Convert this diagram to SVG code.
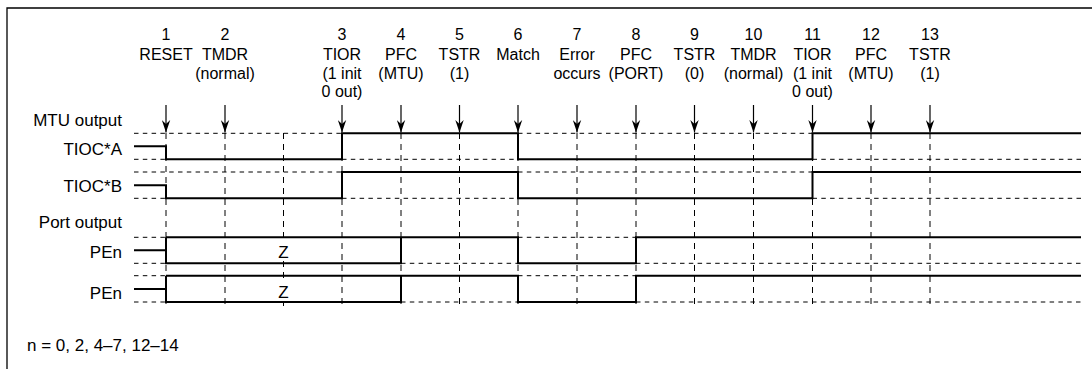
<svg xmlns="http://www.w3.org/2000/svg" width="1092" height="369" viewBox="0 0 1092 369">
<style>
text{font-family:"Liberation Sans",Arial,sans-serif;font-size:16px;fill:#000}
.c{text-anchor:middle}
.r{text-anchor:end;font-size:17px}
.n{font-size:17px}
.z{text-anchor:middle;font-size:17px}
.sig{fill:none;stroke:#000;stroke-width:2}
.hd{fill:none;stroke:#000;stroke-width:1;stroke-dasharray:4.5,4.3}
.vd{fill:none;stroke:#000;stroke-width:1;stroke-dasharray:6,5}
.ar{stroke:#000;stroke-width:1.2}
.frame{fill:none;stroke:#000;stroke-width:1.3}
</style>
<defs>
<marker id="ah" markerWidth="13" markerHeight="9" refX="12.5" refY="4.5" orient="auto" markerUnits="userSpaceOnUse" viewBox="0 0 13 9">
<path d="M12.5,4.5 L0,0.3 L4,4.5 L0,8.7 Z" fill="#000"/>
</marker>
</defs>
<path class="frame" d="M7,369 V8 H1092"/>

<g id="header-labels">
<g id="ev1"><text class="c" x="166" y="40">1</text><text class="c" x="166" y="59.5">RESET</text></g>
<g id="ev2"><text class="c" x="225" y="40">2</text><text class="c" x="225" y="59.5">TMDR</text><text class="c" x="225" y="78.5">(normal)</text></g>
<g id="ev3"><text class="c" x="342" y="40">3</text><text class="c" x="342" y="59.5">TIOR</text><text class="c" x="342" y="78.5">(1 init</text><text class="c" x="342" y="97">0 out)</text></g>
<g id="ev4"><text class="c" x="401" y="40">4</text><text class="c" x="401" y="59.5">PFC</text><text class="c" x="401" y="78.5">(MTU)</text></g>
<g id="ev5"><text class="c" x="459.5" y="40">5</text><text class="c" x="459.5" y="59.5">TSTR</text><text class="c" x="459.5" y="78.5">(1)</text></g>
<g id="ev6"><text class="c" x="518" y="40">6</text><text class="c" x="518" y="59.5">Match</text></g>
<g id="ev7"><text class="c" x="577" y="40">7</text><text class="c" x="577" y="59.5">Error</text><text class="c" x="577" y="78.5">occurs</text></g>
<g id="ev8"><text class="c" x="636" y="40">8</text><text class="c" x="636" y="59.5">PFC</text><text class="c" x="636" y="78.5">(PORT)</text></g>
<g id="ev9"><text class="c" x="694.5" y="40">9</text><text class="c" x="694.5" y="59.5">TSTR</text><text class="c" x="694.5" y="78.5">(0)</text></g>
<g id="ev10"><text class="c" x="753.5" y="40">10</text><text class="c" x="753.5" y="59.5">TMDR</text><text class="c" x="753.5" y="78.5">(normal)</text></g>
<g id="ev11"><text class="c" x="812.5" y="40">11</text><text class="c" x="812.5" y="59.5">TIOR</text><text class="c" x="812.5" y="78.5">(1 init</text><text class="c" x="812.5" y="97">0 out)</text></g>
<g id="ev12"><text class="c" x="871" y="40">12</text><text class="c" x="871" y="59.5">PFC</text><text class="c" x="871" y="78.5">(MTU)</text></g>
<g id="ev13"><text class="c" x="930" y="40">13</text><text class="c" x="930" y="59.5">TSTR</text><text class="c" x="930" y="78.5">(1)</text></g>
</g>

<g id="row-labels">
<text class="r" x="122" y="126">MTU output</text>
<text class="r" x="122" y="155">TIOC*A</text>
<text class="r" x="122" y="192">TIOC*B</text>
<text class="r" x="122" y="227.5">Port output</text>
<text class="r" x="122" y="258">PEn</text>
<text class="r" x="122" y="299">PEn</text>
<text class="z" x="283.5" y="258">Z</text>
<text class="z" x="283.5" y="298">Z</text>
<text class="n" x="27" y="351">n = 0, 2, 4–7, 12–14</text>
</g>

<g id="grid">
<path class="vd" d="M166,133V306M225,133V306M283.5,133V241M283.5,261V281M283.5,301V306M342,133V306M401,133V306M459.5,133V306M518,133V306M577,133V306M636,133V306M694.5,133V306M753.5,133V306M812.5,133V306M871,133V306M930,133V306"/>
<path class="hd" d="M134,133.3H342M518,133.3H812.5M134,159.3H166M342,159.3H518M812.5,159.3H1081"/>
<path class="hd" d="M134,172H342M518,172H812.5M134,198.3H166M342,198.3H518M812.5,198.3H1081"/>
<path class="hd" d="M134,237.3H166M518,237.3H636M134,263.3H166M401,263.3H518M636,263.3H1081"/>
<path class="hd" d="M134,275.7H166M518,275.7H636M134,302H166M401,302H518M636,302H1081"/>
</g>

<g id="connectors">
<line class="ar" x1="166" y1="105" x2="166" y2="132.5" marker-end="url(#ah)"/>
<line class="ar" x1="225" y1="105" x2="225" y2="132.5" marker-end="url(#ah)"/>
<line class="ar" x1="342" y1="105" x2="342" y2="132.5" marker-end="url(#ah)"/>
<line class="ar" x1="401" y1="105" x2="401" y2="132.5" marker-end="url(#ah)"/>
<line class="ar" x1="459.5" y1="105" x2="459.5" y2="132.5" marker-end="url(#ah)"/>
<line class="ar" x1="518" y1="105" x2="518" y2="132.5" marker-end="url(#ah)"/>
<line class="ar" x1="577" y1="105" x2="577" y2="132.5" marker-end="url(#ah)"/>
<line class="ar" x1="636" y1="105" x2="636" y2="132.5" marker-end="url(#ah)"/>
<line class="ar" x1="694.5" y1="105" x2="694.5" y2="132.5" marker-end="url(#ah)"/>
<line class="ar" x1="753.5" y1="105" x2="753.5" y2="132.5" marker-end="url(#ah)"/>
<line class="ar" x1="812.5" y1="105" x2="812.5" y2="132.5" marker-end="url(#ah)"/>
<line class="ar" x1="871" y1="105" x2="871" y2="132.5" marker-end="url(#ah)"/>
<line class="ar" x1="930" y1="105" x2="930" y2="132.5" marker-end="url(#ah)"/>
</g>

<g id="sig-tioca"><path class="sig" d="M134,146.3H166V159.3H342V133.3H518V159.3H812.5V133.3H1081"/></g>
<g id="sig-tiocb"><path class="sig" d="M134,185.3H166V198.3H342V172H518V198.3H812.5V172H1081"/></g>
<g id="sig-pen1"><path class="sig" d="M134,250.3H166M166,237.3V263.3H401V237.3M166,237.3H518V263.3H636V237.3H1081"/></g>
<g id="sig-pen2"><path class="sig" d="M134,289H166M166,275.7V302H401V275.7M166,275.7H518V302H636V275.7H1081"/></g>
</svg>
